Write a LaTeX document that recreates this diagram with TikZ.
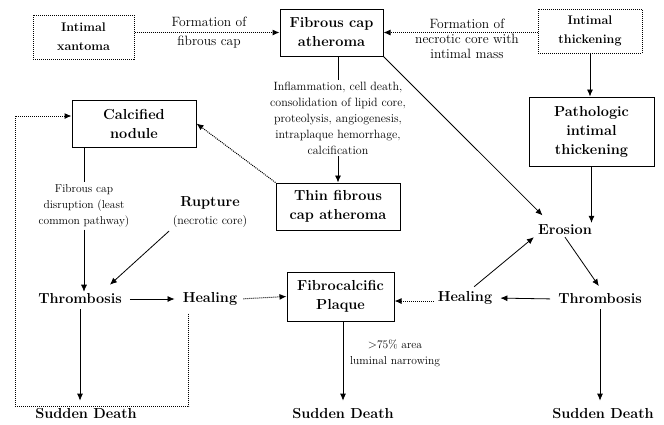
\documentclass[tikz,border=0pt]{standalone}
\usetikzlibrary{arrows.meta}
\begin{document}
\begin{tikzpicture}[x=1pt,y=-1pt,
  bbig/.style={font=\fontsize{14.5}{19}\selectfont\bfseries},
  bsmall/.style={font=\fontsize{12.5}{19}\selectfont\bfseries},
  solidbox/.style={draw, line width=1pt, inner sep=0pt, align=center, bbig},
  dotbox/.style={draw, line width=1pt, densely dotted, inner sep=0pt, align=center, bsmall},
  bigtxt/.style={inner sep=2pt, align=center, bbig},
  lbltop/.style={inner sep=2pt, align=center},
  lblmid/.style={inner sep=2pt, align=center},
  ar/.style={line width=0.8pt, -{Latex[length=7pt,width=6pt]}},
  ln/.style={line width=0.8pt},
  dotar/.style={line width=1pt, densely dotted, -{Latex[length=7pt,width=6pt]}},
  dotln/.style={line width=1pt, densely dotted}
]
\useasboundingbox (0,0) rectangle (664,424);
\fill[white] (0,0) rectangle (664,424);

% boxes
\node[dotbox, minimum width=101pt, minimum height=44pt] (xan) at (83.5,37) {Intimal\\xantoma};
\node[solidbox, minimum width=103pt, minimum height=47pt] (fca) at (331.5,32.5) {Fibrous cap\\atheroma};
\node[dotbox, minimum width=104pt, minimum height=44pt] (it) at (590,31) {Intimal\\thickening};
\node[solidbox, minimum width=125pt, minimum height=69pt] (path) at (591.5,131.5) {Pathologic\\intimal\\thickening};
\node[solidbox, minimum width=124pt, minimum height=47pt] (cal) at (134,123.5) {Calcified\\nodule};
\node[solidbox, minimum width=124pt, minimum height=47pt] (thin) at (338,206.5) {Thin fibrous\\cap atheroma};
\node[solidbox, minimum width=107pt, minimum height=49pt] (fcp) at (340.5,296.5) {Fibrocalcific\\Plaque};

% labels
\node[lbltop, font=\fontsize{13.5}{19}\selectfont] (lab1) at (209,32.5) {Formation of\\fibrous cap};
\node[lbltop, font=\fontsize{13.5}{15}\selectfont] (lab2) at (467,39) {Formation of\\necrotic core with\\intimal mass};
\node[lblmid, font=\fontsize{12}{16}\selectfont] (infl) at (338,118) {Inflammation, cell death,\\consolidation of lipid core,\\proteolysis, angiogenesis,\\intraplaque hemorrhage,\\calcification};
\node[lblmid, font=\fontsize{11.5}{16}\selectfont] (disr) at (84,206) {Fibrous cap\\disruption (least\\common pathway)};
\node[lblmid, font=\fontsize{12}{18}\selectfont] (rup) at (210,212) {{\fontsize{14.5}{18}\selectfont\bfseries Rupture}\\(necrotic core)};
\node[lblmid, font=\fontsize{11.5}{16}\selectfont] (narrow) at (395,353) {$>$75\% area\\luminal narrowing};

% plain bold nodes
\node[bigtxt] (ero) at (565,230) {Erosion};
\node[bigtxt] (thr1) at (80,299) {Thrombosis};
\node[bigtxt] (heal1) at (210,299) {Healing};
\node[bigtxt] (heal2) at (465,298) {Healing};
\node[bigtxt] (thr2) at (600,299) {Thrombosis};
\node[bigtxt] (sd1) at (86,414) {Sudden Death};
\node[bigtxt] (sd2) at (343,414) {Sudden Death};
\node[bigtxt] (sd3) at (603,414) {Sudden Death};

% connectors top
\draw[dotar] (xan.east |- fca.west) -- (fca.west);
\draw[dotar] (it.west |- fca.east) -- (fca.east);
\draw[ar] (it.south) -- (it.south |- path.north);
\draw[ln] (fca.south -| infl.north) -- (infl.north);
\draw[ar] (infl.south) -- (infl.south |- thin.north);
\draw[dotar] (thin.north west) -- (cal.east);

% left branch
\draw[ln] (disr.north |- cal.south) -- (disr.north);
\draw[ar] (disr.south) -- (disr.south |- thr1.north);
\draw[ar, shorten <=2pt] (rup.south west) -- ([xshift=-14pt,yshift=7pt]thr1.north east);
\draw[ar, shorten <=6pt, shorten >=6pt] (thr1.east) -- (heal1.west);
\draw[dotar, shorten <=4pt] (heal1.east) -- (fcp.west);
\draw[ar, shorten <=3pt, shorten >=6pt] (thr1.south) -- (thr1.south |- sd1.north);
\draw[dotln] ([xshift=8pt,yshift=-6pt]heal1.south west) -- ([xshift=8pt]heal1.south west |- sd1.north) coordinate (lp1) -- (15,0 |- lp1) coordinate (lp2);
\draw[dotar] (lp2) |- ([yshift=7.5pt]cal.west);

% right branch
\draw[ar, shorten >=2pt] (fca.south east) -- ([xshift=8pt,yshift=6pt]ero.north west);
\draw[ar] (path.south) -- (path.south |- ero.north);
\draw[ar, shorten <=4pt] ([xshift=6pt]heal2.north) -- ([xshift=-2pt]ero.south west);
\draw[ar, shorten >=2pt] (ero.south) -- ([yshift=4pt]thr2.north);
\draw[ar, shorten <=6pt, shorten >=6pt] (thr2.west) -- (heal2.east);
\draw[dotar, shorten <=2pt] ([yshift=-3pt]heal2.west) -- ([yshift=-3pt]heal2.west -| fcp.east);
\draw[ar, shorten <=3pt, shorten >=6pt] (thr2.south) -- (thr2.south |- sd3.north);

% middle
\draw[ar, shorten >=6pt] (sd2.north |- fcp.south) -- (sd2.north);
\end{tikzpicture}
\end{document}
